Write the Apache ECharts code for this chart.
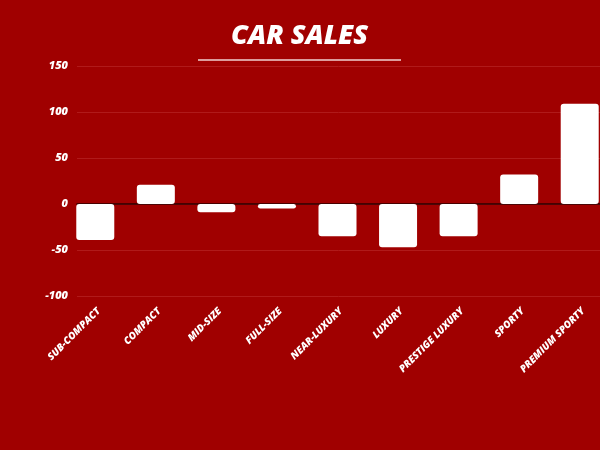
<!DOCTYPE html>
<html><head><meta charset="utf-8">
<script src="https://cdn.jsdelivr.net/npm/echarts@6/dist/echarts.min.js"></script>
<style>html,body{margin:0;padding:0;background:#a00000;overflow:hidden}#c{width:612px;height:450px}</style>
</head><body><div id="c"></div>
<script>
const categories = ['SUB-COMPACT','COMPACT','MID-SIZE','FULL-SIZE','NEAR-LUXURY','LUXURY','PRESTIGE LUXURY','SPORTY','PREMIUM SPORTY'];
const sales = [-39, 21, -9, -5, -35, -47, -35, 32, 109];
const yTicks = [-100, -50, 0, 50, 100, 150];

const yMin = yTicks[0], yMax = yTicks[yTicks.length - 1];
const chart = echarts.init(document.getElementById('c'));
chart.setOption({
  backgroundColor: '#a00000',
  animation: false,
  title: {
    text: 'CAR SALES', left: 226, top: 18,
    textStyle: { color: '#ffffff', fontSize: 27, fontWeight: 800, fontStyle: 'italic', fontFamily: 'Open Sans' }
  },
  graphic: [{
    type: 'line', shape: { x1: 198, y1: 60, x2: 401, y2: 60 },
    style: { stroke: '#f0d0d0', lineWidth: 1.5 }
  }],
  grid: [
    { left: 77, right: 12, top: 66, bottom: 154 },
    { left: 65, right: 2, top: 66, bottom: 154 }
  ],
  xAxis: [
    { type: 'value', gridIndex: 0, min: 0, max: 1, axisLabel: { show: false }, axisTick: { show: false }, splitLine: { show: false },
      axisLine: { show: true, onZero: true, lineStyle: { color: '#2a0000', width: 1.5 } } },
    { type: 'category', gridIndex: 1, data: categories,
      axisLine: { show: false }, axisTick: { show: false },
      axisLabel: { color: '#ffffff', rotate: 45, fontSize: 10, fontWeight: 800, fontStyle: 'italic', fontFamily: 'Open Sans', interval: 0, margin: 10, verticalAlign: 'top' } }
  ],
  yAxis: [
    { type: 'value', gridIndex: 0, min: yMin, max: yMax, interval: 50,
      axisLine: { show: false }, axisTick: { show: false },
      axisLabel: { color: '#ffffff', fontSize: 11, fontWeight: 800, fontStyle: 'italic', fontFamily: 'Open Sans', margin: 9 },
      splitLine: { lineStyle: { color: '#b01a1a', width: 1 } } },
    { type: 'value', gridIndex: 1, min: yMin, max: yMax, interval: 50, show: false, splitLine: { show: false } }
  ],
  series: [{
    type: 'bar', xAxisIndex: 1, yAxisIndex: 1, data: sales, barWidth: 38, z: 1,
    itemStyle: { color: '#ffffff', borderRadius: 3 }
  }]
});
</script></body></html>
